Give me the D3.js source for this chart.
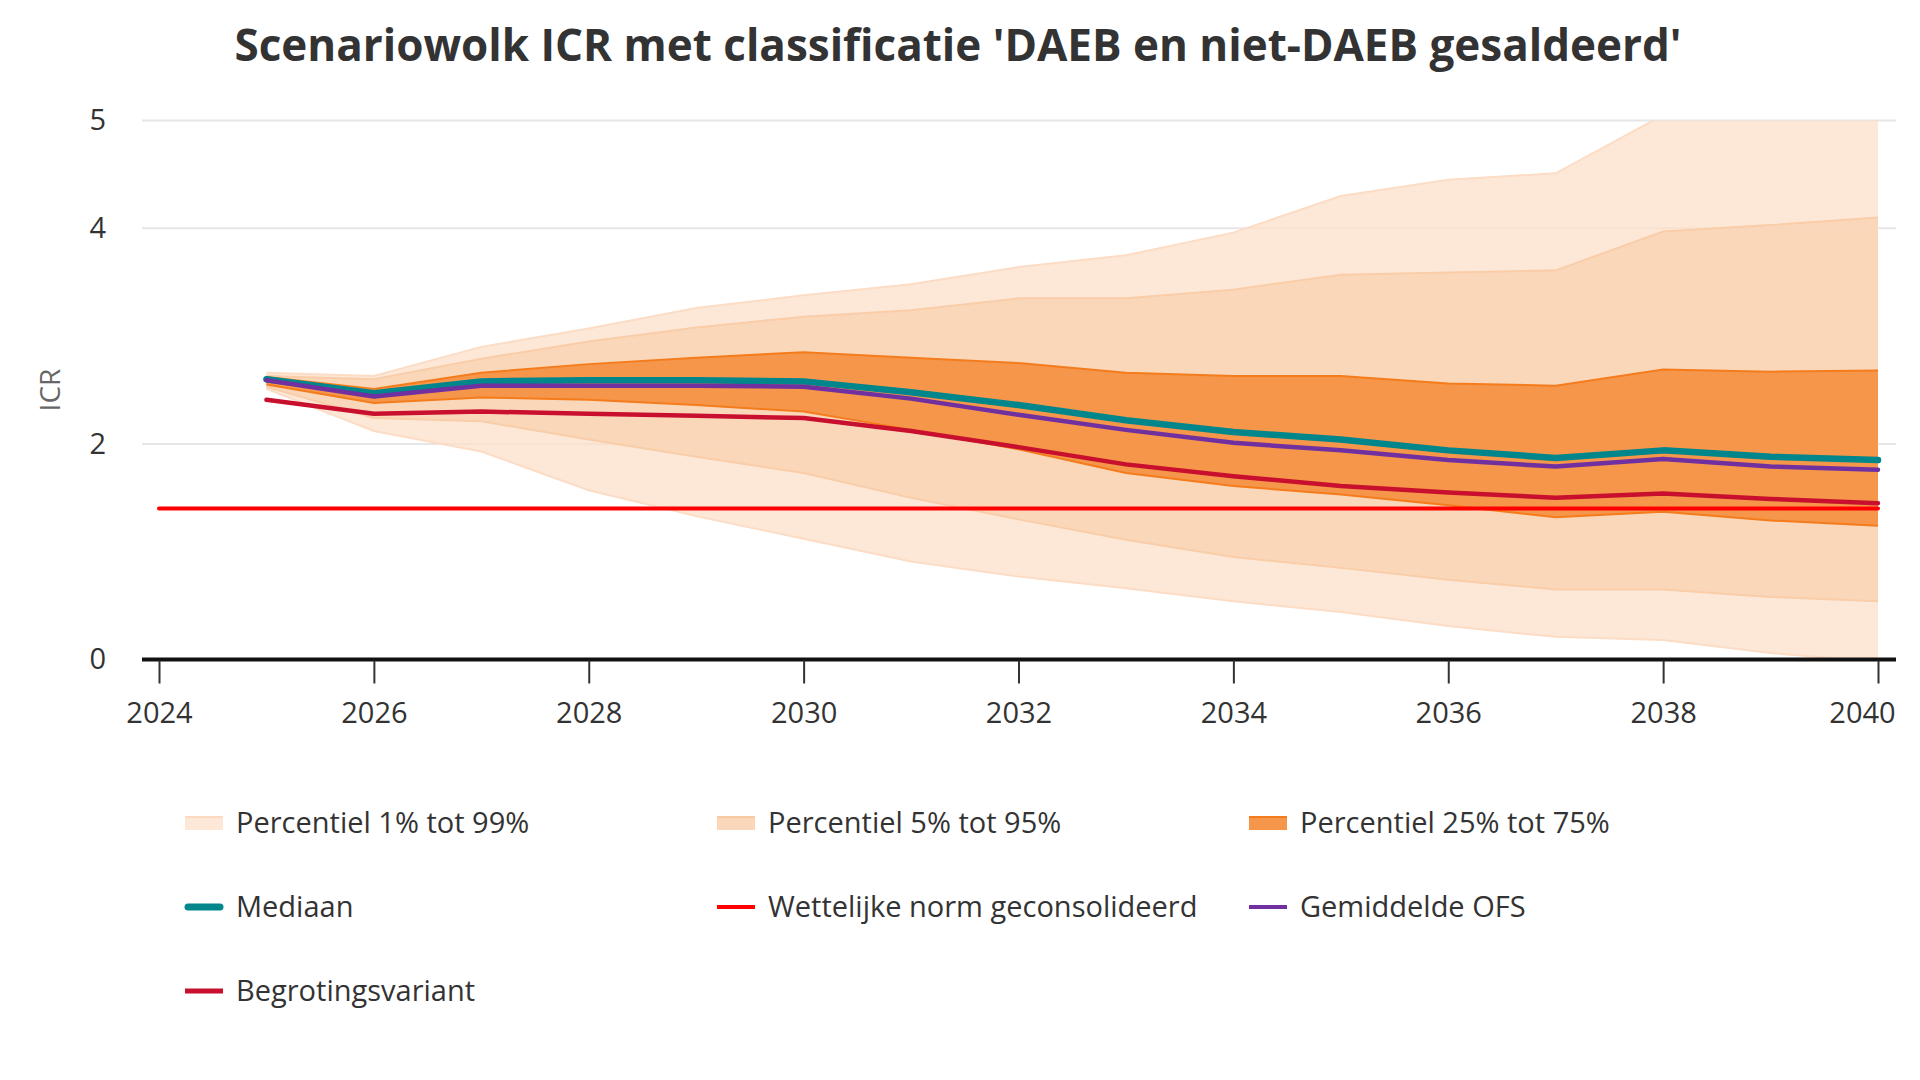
<!DOCTYPE html>
<html>
<head>
  <meta charset="utf-8">
  <script src="https://d3js.org/d3.v7.min.js"></script>
  <style>
    body { margin: 0; background: #fff; }
    text { font-family: "Open Sans", "Noto Sans", sans-serif; }
  </style>
</head>
<body>
<script>
  // jaren en percentielbanden
  var years = [2025, 2026, 2027, 2028, 2029, 2030, 2031, 2032, 2033, 2034, 2035, 2036, 2037, 2038, 2039, 2040];
  var p01 = [2.51, 2.12, 1.93, 1.57, 1.33, 1.12, 0.91, 0.77, 0.66, 0.54, 0.44, 0.31, 0.21, 0.18, 0.06, -0.02];
  var p99 = [2.66, 2.63, 2.90, 3.07, 3.26, 3.38, 3.48, 3.64, 3.75, 3.96, 4.30, 4.45, 4.51, 5.05, 5.30, 5.50];
  var p05 = [2.53, 2.24, 2.21, 2.04, 1.88, 1.73, 1.50, 1.30, 1.11, 0.95, 0.85, 0.74, 0.65, 0.65, 0.58, 0.54];
  var p95 = [2.63, 2.60, 2.79, 2.95, 3.08, 3.18, 3.24, 3.35, 3.35, 3.43, 3.57, 3.59, 3.61, 3.97, 4.03, 4.10];
  var p25 = [2.55, 2.38, 2.43, 2.41, 2.36, 2.30, 2.13, 1.95, 1.73, 1.61, 1.53, 1.43, 1.32, 1.37, 1.29, 1.24];
  var p75 = [2.62, 2.51, 2.66, 2.74, 2.80, 2.85, 2.80, 2.75, 2.66, 2.63, 2.63, 2.56, 2.54, 2.69, 2.67, 2.68];
  var mediaan = [2.60, 2.47, 2.58, 2.59, 2.59, 2.58, 2.48, 2.36, 2.22, 2.11, 2.04, 1.94, 1.87, 1.94, 1.88, 1.85];
  var gemiddelde = [2.59, 2.44, 2.54, 2.54, 2.54, 2.53, 2.42, 2.27, 2.13, 2.01, 1.94, 1.85, 1.79, 1.86, 1.79, 1.76];
  var begroting = [2.41, 2.28, 2.30, 2.28, 2.26, 2.24, 2.12, 1.97, 1.81, 1.70, 1.61, 1.55, 1.50, 1.54, 1.49, 1.45];
  var normYears = [2024, 2040];
  var norm = [1.4, 1.4];

  var xTicks = [2024, 2026, 2028, 2030, 2032, 2034, 2036, 2038, 2040];
  var yTicks = [0, 2, 4, 5];

  var legendLabels = ["Percentiel 1% tot 99%", "Percentiel 5% tot 95%", "Percentiel 25% tot 75%",
                      "Mediaan", "Wettelijke norm geconsolideerd", "Gemiddelde OFS", "Begrotingsvariant"];

  var width = 1920, height = 1080;
  var plotLeft = 142, plotRight = 1896;

  var svg = d3.select("body").append("svg")
      .attr("width", width)
      .attr("height", height);

  svg.append("rect").attr("width", width).attr("height", height).attr("fill", "#fff");

  var x = d3.scaleLinear().domain([2024, 2040]).range([159, 1878]);
  var y = d3.scaleLinear().domain([0, 5]).range([659.5, 120.5]);

  // titel
  svg.append("text")
      .attr("x", 958)
      .attr("y", 61)
      .attr("text-anchor", "middle")
      .style("font-size", "44px")
      .style("font-weight", "bold")
      .style("fill", "#333")
      .text("Scenariowolk ICR met classificatie 'DAEB en niet-DAEB gesaldeerd'");

  // rasterlijnen
  svg.append("g").selectAll("line")
      .data(yTicks.filter(function(d) { return d > 0; }))
      .enter().append("line")
      .attr("x1", plotLeft).attr("x2", plotRight)
      .attr("y1", function(d) { return y(d); })
      .attr("y2", function(d) { return y(d); })
      .attr("stroke", "#e6e6e6")
      .attr("stroke-width", 2);

  svg.append("clipPath").attr("id", "plot")
    .append("rect")
      .attr("x", plotLeft).attr("y", y(5))
      .attr("width", plotRight - plotLeft).attr("height", y(0) - y(5));

  var chart = svg.append("g").attr("clip-path", "url(#plot)");

  function band(lo, hi, fill, opacity, edge) {
    var rows = years.map(function(yr, i) { return { yr: yr, lo: lo[i], hi: hi[i] }; });
    chart.append("path")
        .datum(rows)
        .attr("d", d3.area()
            .x(function(d) { return x(d.yr); })
            .y0(function(d) { return y(d.lo); })
            .y1(function(d) { return y(d.hi); }))
        .attr("fill", fill)
        .attr("fill-opacity", opacity);
    [lo, hi].forEach(function(vals) {
      chart.append("path")
          .datum(vals)
          .attr("d", d3.line()
              .x(function(d, i) { return x(years[i]); })
              .y(function(d) { return y(d); }))
          .attr("fill", "none")
          .attr("stroke", edge)
          .attr("stroke-width", 2);
    });
  }

  band(p01, p99, "rgb(252,224,203)", 0.75, "#fcdcc4");
  band(p05, p95, "rgb(249,209,176)", 0.75, "#f9cda8");
  band(p25, p75, "rgb(244,143,62)", 0.9, "#f47c1c");

  function line(xs, vals, color, w) {
    chart.append("path")
        .datum(vals)
        .attr("d", d3.line()
            .x(function(d, i) { return x(xs[i]); })
            .y(function(d) { return y(d); }))
        .attr("fill", "none")
        .attr("stroke", color)
        .attr("stroke-width", w)
        .attr("stroke-linecap", "round")
        .attr("stroke-linejoin", "round");
  }

  line(years, mediaan, "#00868b", 6.5);
  line(normYears, norm, "#ff0000", 4);
  line(years, gemiddelde, "#7030a0", 4.5);
  line(years, begroting, "#c8102e", 4.5);

  // x-as
  svg.append("line")
      .attr("x1", plotLeft).attr("x2", plotRight)
      .attr("y1", y(0)).attr("y2", y(0))
      .attr("stroke", "#111")
      .attr("stroke-width", 4);

  var xAxis = svg.append("g")
      .attr("transform", "translate(0," + (y(0) + 1) + ")")
      .call(d3.axisBottom(x).tickValues(xTicks).tickSize(23).tickPadding(19).tickFormat(d3.format("d")));
  xAxis.select(".domain").remove();
  xAxis.selectAll(".tick line").attr("stroke", "#333").attr("stroke-width", 2);
  xAxis.selectAll(".tick text")
      .style("font-size", "29px")
      .style("font-family", "'Open Sans', sans-serif")
      .attr("fill", "#333");
  // laatste label binnen de grafiek houden
  xAxis.selectAll(".tick text")
      .filter(function(d) { return d === 2040; })
      .attr("dx", -16);

  // y-as
  var yAxis = svg.append("g")
      .attr("transform", "translate(" + plotLeft + ",0)")
      .call(d3.axisLeft(y).tickValues(yTicks).tickSize(0).tickPadding(36).tickFormat(d3.format("d")));
  yAxis.select(".domain").remove();
  yAxis.selectAll(".tick text")
      .style("font-size", "29px")
      .style("font-family", "'Open Sans', sans-serif")
      .attr("fill", "#333");

  svg.append("text")
      .attr("transform", "translate(60,390) rotate(-90)")
      .attr("text-anchor", "middle")
      .style("font-size", "28px")
      .style("fill", "#666")
      .text("ICR");

  // legenda
  var legendX = [185, 717, 1249];
  var legendY = [823, 907, 991];
  var legendSym = [
    { type: "band", fill: "#fde8d8", edge: "#fcd9bf" },
    { type: "band", fill: "#fad7ba", edge: "#f9c9a2" },
    { type: "band", fill: "#f5964a", edge: "#f47c1c" },
    { type: "line", color: "#00868b", w: 7, cap: "round" },
    { type: "line", color: "#ff0000", w: 4, cap: "butt" },
    { type: "line", color: "#7030a0", w: 4, cap: "butt" },
    { type: "line", color: "#c8102e", w: 5, cap: "butt" }
  ];

  var legend = svg.append("g");
  legendLabels.forEach(function(label, i) {
    var lx = legendX[i % 3], ly = legendY[Math.floor(i / 3)];
    var s = legendSym[i];
    var g = legend.append("g").attr("transform", "translate(" + lx + "," + ly + ")");
    if (s.type === "band") {
      g.append("rect").attr("x", 0).attr("y", -6).attr("width", 38).attr("height", 13).attr("fill", s.fill);
      g.append("line").attr("x1", 0).attr("x2", 38).attr("y1", -6).attr("y2", -6)
          .attr("stroke", s.edge).attr("stroke-width", 2);
    } else {
      g.append("line").attr("x1", s.cap === "round" ? 3 : 0).attr("x2", s.cap === "round" ? 35 : 38)
          .attr("y1", 0).attr("y2", 0)
          .attr("stroke", s.color).attr("stroke-width", s.w).attr("stroke-linecap", s.cap);
    }
    g.append("text")
        .attr("x", 51)
        .attr("y", 10)
        .style("font-size", "29px")
        .style("fill", "#333")
        .text(label);
  });
</script>
</body>
</html>
